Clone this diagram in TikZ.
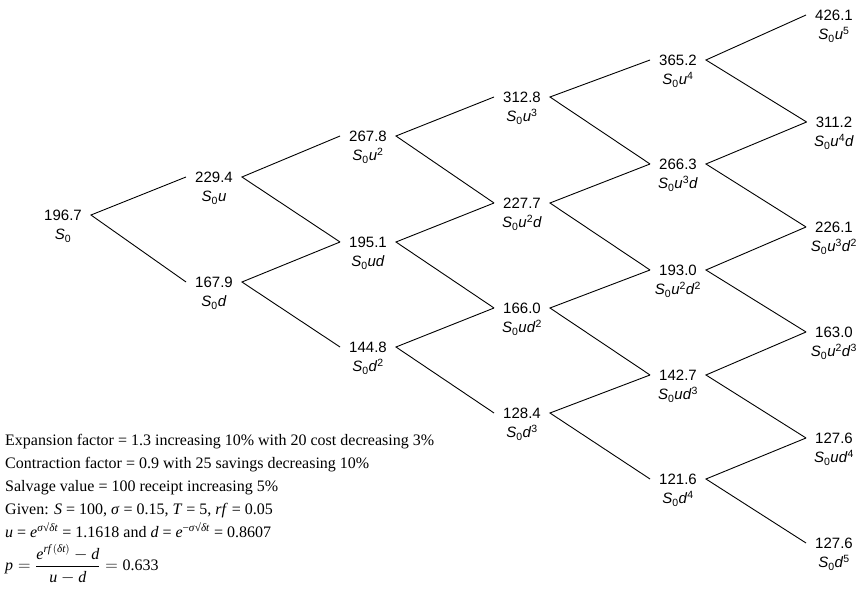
\documentclass[tikz,border=0pt]{standalone}
\usepackage{amsmath}
\usepackage{fontspec}
\setmainfont{Liberation Serif}
\setsansfont{Liberation Sans}
\usepackage{xcolor}
\usepackage{tikz}
\usetikzlibrary{positioning}

\newcommand{\Szero}{\textit{S}\textsubscript{0}}

\begin{document}
\begin{tikzpicture}[
    x=1pt, y=-1pt,
    val/.style={inner xsep=9pt, inner ysep=1pt, text height=11pt, text depth=0pt, font=\sffamily\fontsize{15}{18}\selectfont},
    lbl/.style={inner sep=0pt, text height=11pt, text depth=3pt, font=\sffamily\fontsize{15}{18}\selectfont},
    branch/.style={draw=black, line width=0.9pt}
]
    \useasboundingbox (0,0) rectangle (863,604);

    % step 0
    \node [val, label={[lbl, label distance=7pt]below:\Szero}] (s) at (63,215) {196.7};
    % step 1
    \node [val, label={[lbl, label distance=7pt]below:\Szero\textit{u}}] (su) at (214,177) {229.4};
    \node [val, label={[lbl, label distance=7pt]below:\Szero\textit{d}}] (sd) at (214,282) {167.9};
    % step 2
    \node [val, label={[lbl, label distance=7pt]below:\Szero\textit{u}\textsuperscript{2}}] (suu) at (368,136) {267.8};
    \node [val, label={[lbl, label distance=7pt]below:\Szero\textit{ud}}] (sud) at (368,242) {195.1};
    \node [val, label={[lbl, label distance=7pt]below:\Szero\textit{d}\textsuperscript{2}}] (sdd) at (368,347) {144.8};
    % step 3
    \node [val, label={[lbl, label distance=7pt]below:\Szero\textit{u}\textsuperscript{3}}] (suuu) at (522,97) {312.8};
    \node [val, label={[lbl, label distance=7pt]below:\Szero\textit{u}\textsuperscript{2}\textit{d}}] (suud) at (522,203) {227.7};
    \node [val, label={[lbl, label distance=7pt]below:\Szero\textit{ud}\textsuperscript{2}}] (sudd) at (522,308) {166.0};
    \node [val, label={[lbl, label distance=7pt]below:\Szero\textit{d}\textsuperscript{3}}] (sddd) at (522,413) {128.4};
    % step 4
    \node [val, label={[lbl, label distance=7pt]below:\Szero\textit{u}\textsuperscript{4}}] (suuuu) at (678,60) {365.2};
    \node [val, label={[lbl, label distance=7pt]below:\Szero\textit{u}\textsuperscript{3}\textit{d}}] (suuud) at (678,164) {266.3};
    \node [val, label={[lbl, label distance=7pt]below:\Szero\textit{u}\textsuperscript{2}\textit{d}\textsuperscript{2}}] (suudd) at (678,270) {193.0};
    \node [val, label={[lbl, label distance=7pt]below:\Szero\textit{ud}\textsuperscript{3}}] (suddd) at (678,375) {142.7};
    \node [val, label={[lbl, label distance=7pt]below:\Szero\textit{d}\textsuperscript{4}}] (sdddd) at (678,479) {121.6};
    % step 5
    \node [val, label={[lbl, label distance=7pt]below:\Szero\textit{u}\textsuperscript{5}}] (suuuuu) at (834,15) {426.1};
    \node [val, label={[lbl, label distance=7pt]below:\Szero\textit{u}\textsuperscript{4}\textit{d}}] (suuuud) at (834,122) {311.2};
    \node [val, label={[lbl, label distance=7pt]below:\Szero\textit{u}\textsuperscript{3}\textit{d}\textsuperscript{2}}] (suuudd) at (834,227) {226.1};
    \node [val, label={[lbl, label distance=7pt]below:\Szero\textit{u}\textsuperscript{2}\textit{d}\textsuperscript{3}}] (suuddd) at (834,332) {163.0};
    \node [val, label={[lbl, label distance=7pt]below:\Szero\textit{ud}\textsuperscript{4}}] (sudddd) at (834,438) {127.6};
    \node [val, label={[lbl, label distance=7pt]below:\Szero\textit{d}\textsuperscript{5}}] (sddddd) at (834,543) {127.6};

    % branches
    \draw [branch] (su.west) -- (s.east) -- (sd.west);
    \draw [branch] (suu.west) -- (su.east) -- (sud.west);
    \draw [branch] (sud.west) -- (sd.east) -- (sdd.west);
    \draw [branch] (suuu.west) -- (suu.east) -- (suud.west);
    \draw [branch] (suud.west) -- (sud.east) -- (sudd.west);
    \draw [branch] (sudd.west) -- (sdd.east) -- (sddd.west);
    \draw [branch] (suuuu.west) -- (suuu.east) -- (suuud.west);
    \draw [branch] (suuud.west) -- (suud.east) -- (suudd.west);
    \draw [branch] (suudd.west) -- (sudd.east) -- (suddd.west);
    \draw [branch] (suddd.west) -- (sddd.east) -- (sdddd.west);
    \draw [branch] (suuuuu.west) -- (suuuu.east) -- (suuuud.west);
    \draw [branch] (suuuud.west) -- (suuud.east) -- (suuudd.west);
    \draw [branch] (suuudd.west) -- (suudd.east) -- (suuddd.west);
    \draw [branch] (suuddd.west) -- (suddd.east) -- (sudddd.west);
    \draw [branch] (sudddd.west) -- (sdddd.east) -- (sddddd.west);

    % assumptions
    \node [anchor=north west, inner sep=0pt, align=left, font=\fontsize{16}{23}\selectfont] (notes) at (5,434) {%
        Expansion factor = 1.3 increasing 10\% with 20 cost decreasing 3\%\\
        Contraction factor = 0.9 with 25 savings decreasing 10\%\\
        Salvage value = 100 receipt increasing 5\%\\
        Given: \textit{S} = 100, \textit{σ} = 0.15, \textit{T} = 5, \textit{rf} = 0.05\\
        \textit{u} = \textit{e}\textsuperscript{\textit{σ}√\textit{δt}} = 1.1618 and \textit{d} = \textit{e}\textsuperscript{−\textit{σ}√\textit{δt}} = 0.8607\\[6pt]
        $\textit{p} = \dfrac{\textit{e}^{\textit{rf}\,(\textit{δt})} - \textit{d}}{\textit{u} - \textit{d}} = \text{0.633}$};
\end{tikzpicture}
\end{document}
